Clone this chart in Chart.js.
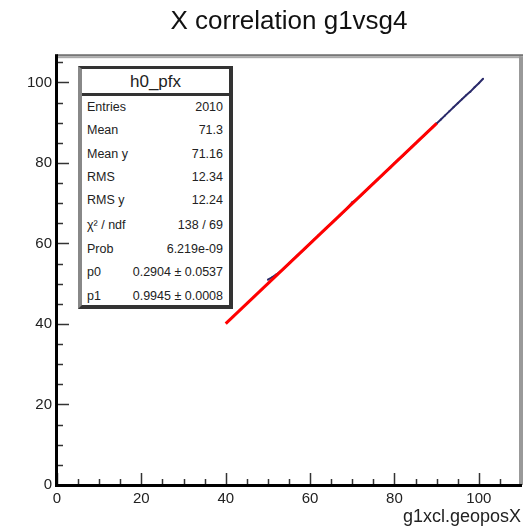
<!DOCTYPE html>
<html><head><meta charset="utf-8">
<script src="https://cdn.jsdelivr.net/npm/chart.js@4/dist/chart.umd.min.js"></script>
<style>
html,body{margin:0;padding:0;background:#fff;}
#wrap{position:relative;width:528px;height:528px;}
#stats{position:absolute;left:78px;top:66px;width:147px;height:236px;background:#fff;
 border-top:3px solid #333;border-right:4px solid #333;border-bottom:4px solid #333;border-left:4px solid #888;
 font-family:"Liberation Sans",Arial,sans-serif;color:#222;}
#stats .hdr{position:absolute;left:0;right:0;top:2px;height:22px;line-height:22px;text-align:center;font-size:17px;border-bottom:3px solid #333;}
#stats .row{position:absolute;left:5px;right:6px;height:16px;line-height:16px;font-size:12.5px;}
#stats .row span.v{position:absolute;right:0;}
</style></head>
<body><div id="wrap"><canvas id="c" width="528" height="528"></canvas>
<div id="stats"></div></div>
<script>
// ---- data ----
const chartTitle = "X correlation g1vsg4";
const xAxisTitle = "g1xcl.geoposX";
const xTickValues = [0, 20, 40, 60, 80, 100];
const yTickValues = [0, 20, 40, 60, 80, 100];
const profX = [50,51,52,53,54,55,56,57,58,59,60,61,62,63,64,65,66,67,68,69,70,71,72,73,74,75,76,77,78,79,80,81,82,83,84,85,86,87,88,89,90,91,92,93,94,95,96,97,98,99,100,101];
const profY = [51.0,51.6,52.3,53.1,54.0,55.0,56.0,57.0,58.0,58.9,60.0,61.0,62.0,63.0,64.0,64.9,65.9,66.9,67.9,69.0,70.2,70.9,71.9,72.9,73.9,74.9,75.9,76.9,77.9,78.8,79.9,80.9,81.8,82.8,83.8,84.8,85.9,86.8,87.8,88.8,89.8,90.8,91.8,92.8,93.8,94.8,95.8,96.8,97.7,98.8,99.8,100.9];
const fitX = [40, 90];
const fitY = [40.07, 89.8];
const statsTitle = "h0_pfx";
const statLabels = ["Entries","Mean","Mean y","RMS","RMS y","\u03c7\u00b2 / ndf","Prob","p0","p1"];
const statValues = ["2010","71.3","71.16","12.34","12.24","138 / 69","6.219e-09","0.2904 \u00b1 0.0537","0.9945 \u00b1 0.0008"];

// ---- stats box ----
const sb = document.getElementById('stats');
const hdr = document.createElement('div'); hdr.className='hdr'; hdr.textContent=statsTitle; sb.appendChild(hdr);
const rowTops = [30,53,77,100,123,148,172,195,219];
statLabels.forEach((l,i)=>{
  const r=document.createElement('div'); r.className='row'; r.style.top=rowTops[i]+'px';
  const a=document.createElement('span'); a.textContent=l;
  const b=document.createElement('span'); b.className='v'; b.textContent=statValues[i];
  r.appendChild(a); r.appendChild(b); sb.appendChild(r);
});

// ---- plugin for ROOT style frame & inward ticks ----
const rootFrame = {
  id:'rootFrame',
  afterDatasetsDraw(chart){
    const ctx=chart.ctx, a=chart.chartArea, xs=chart.scales.x, ys=chart.scales.y;
    ctx.save();
    ctx.strokeStyle='#333'; ctx.lineWidth=1.5;
    for(let v=0; v<=xs.max; v+=5){
      const px=Math.round(xs.getPixelForValue(v))+0.5;
      const len = (v%20===0)?12:6;
      ctx.beginPath(); ctx.moveTo(px,a.bottom); ctx.lineTo(px,a.bottom-len); ctx.stroke();
    }
    for(let v=0; v<=ys.max; v+=5){
      const py=Math.round(ys.getPixelForValue(v))+0.5;
      const len = (v%20===0)?12:6;
      ctx.beginPath(); ctx.moveTo(a.left,py); ctx.lineTo(a.left+len,py); ctx.stroke();
    }
    ctx.fillStyle='#777'; ctx.fillRect(a.left, a.top-2, a.right-a.left+2, 2);
    ctx.fillStyle='#aaa'; ctx.fillRect(a.left, a.top, a.right-a.left, 2);
    ctx.fillStyle='#999'; ctx.fillRect(a.right-2, a.top, 4, a.bottom-a.top);
    ctx.fillStyle='#000';
    ctx.fillRect(a.left-2, a.top-2, 3, a.bottom-a.top+3);
    ctx.fillRect(a.left-2, a.bottom-1, a.right-a.left+3, 3);
    ctx.restore();
  }
};

new Chart(document.getElementById('c'), {
  type:'scatter',
  data:{datasets:[
    {label:'fit', data:fitX.map((x,i)=>({x, y:fitY[i]})), showLine:true, borderColor:'#ff0000', borderWidth:3, pointRadius:0},
    {label:'profile', data:profX.map((x,i)=>({x, y:profY[i]})), showLine:true, borderColor:'#2a2a6a', borderWidth:2, pointRadius:1, pointBackgroundColor:'#2a2a6a', pointBorderWidth:0}
  ]},
  options:{
    responsive:false, animation:false,
    layout:{padding:{top:0,right:7,left:0,bottom:0}},
    plugins:{
      legend:{display:false}, tooltip:{enabled:false},
      title:{display:true, fullSize:false, text:chartTitle, color:'#111', font:{family:'Liberation Sans', size:26, weight:'normal'}, padding:{top:6,bottom:19}}
    },
    scales:{
      x:{type:'linear', min:0, max:110,
        afterBuildTicks:s=>{s.ticks=xTickValues.map(v=>({value:v}));},
        afterFit:s=>{s.height=43;},
        grid:{display:false, drawTicks:false}, border:{display:false},
        ticks:{color:'#222', font:{family:'Liberation Sans', size:15}, padding:5, maxRotation:0, autoSkip:false},
        title:{display:true, text:xAxisTitle, align:'end', color:'#222', font:{family:'Liberation Sans', size:18}, padding:{top:0,bottom:0}}
      },
      y:{type:'linear', min:0, max:106.5,
        afterBuildTicks:s=>{s.ticks=yTickValues.map(v=>({value:v}));},
        afterFit:s=>{s.width=57;},
        grid:{display:false, drawTicks:false}, border:{display:false},
        ticks:{color:'#222', font:{family:'Liberation Sans', size:15}, padding:5, autoSkip:false}
      }
    }
  },
  plugins:[rootFrame]
});
</script></body></html>
